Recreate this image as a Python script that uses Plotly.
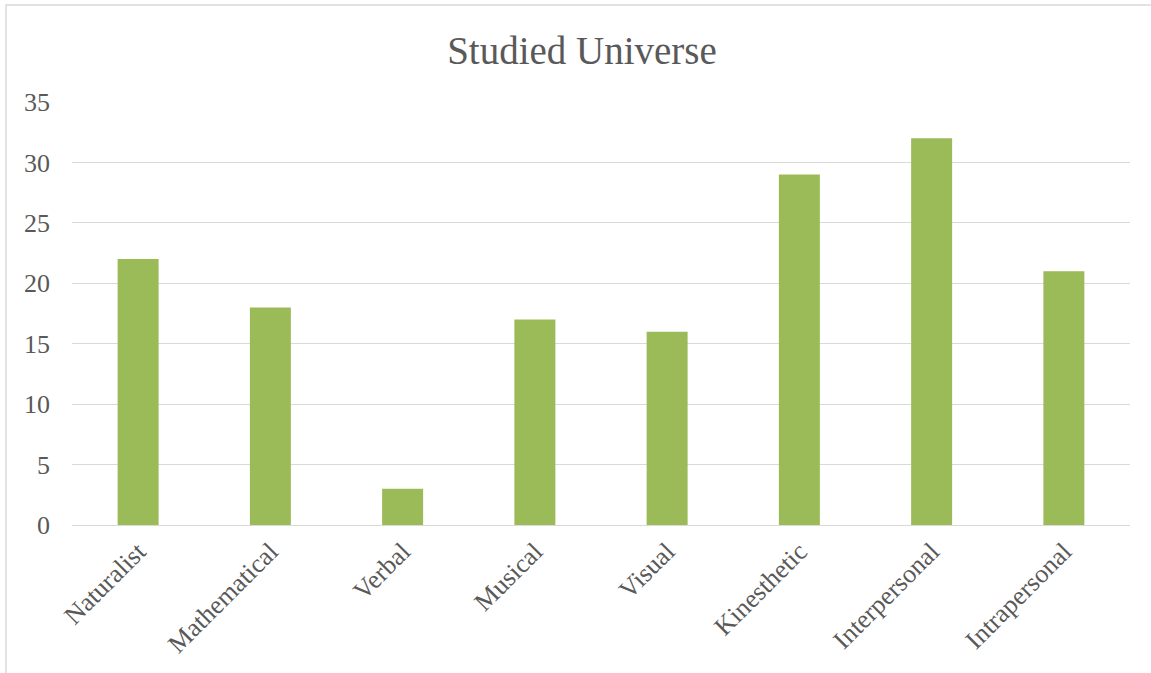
import plotly.graph_objects as go

categories = ["Naturalist", "Mathematical", "Verbal", "Musical", "Visual",
              "Kinesthetic", "Interpersonal", "Intrapersonal"]
values = [22, 18, 3, 17, 16, 29, 32, 21]
y_ticks = [0, 5, 10, 15, 20, 25, 30, 35]

W, H = 1151, 673
L, R, T, B = 72, 21, 102, 148
pw, ph = W - L - R, H - T - B

font_family = "Liberation Serif, DejaVu Serif, serif"
grey = "#595959"

fig = go.Figure(go.Bar(x=categories, y=values, marker=dict(color="#9BBB59", line=dict(width=0))))

fig.update_layout(
    width=W, height=H,
    margin=dict(l=L, r=R, t=T, b=B, autoexpand=False),
    paper_bgcolor="white", plot_bgcolor="white",
    bargap=0.69,
    showlegend=False,
    title=dict(text="Studied Universe", x=582 / W, xanchor="center",
               y=1 - 50 / H, yanchor="middle",
               font=dict(family=font_family, size=39, color=grey)),
    font=dict(family=font_family, color=grey),
    xaxis=dict(tickangle=-45, tickfont=dict(size=26, color=grey),
               showgrid=False, showline=True, linecolor="#d9d9d9", linewidth=1,
               ticks="", automargin=False),
    yaxis=dict(range=[0, 35], tickvals=y_ticks, tickfont=dict(size=26, color=grey),
               showgrid=True, gridcolor="#d9d9d9", gridwidth=1,
               zeroline=False, showline=False, ticks="", ticklabelstandoff=21,
               automargin=False),
)

# outer chart border (left and top visible)
x0 = (6 - L) / pw
x1 = (W + 10 - L) / pw
y_top = (H - B - 5) / ph
y_bot = (H - B - (H + 10)) / ph
fig.add_shape(type="rect", xref="paper", yref="paper",
              x0=x0, x1=x1, y0=y_bot, y1=y_top,
              line=dict(color="#d9d9d9", width=1.5), layer="below")

fig.write_html("out.html")
